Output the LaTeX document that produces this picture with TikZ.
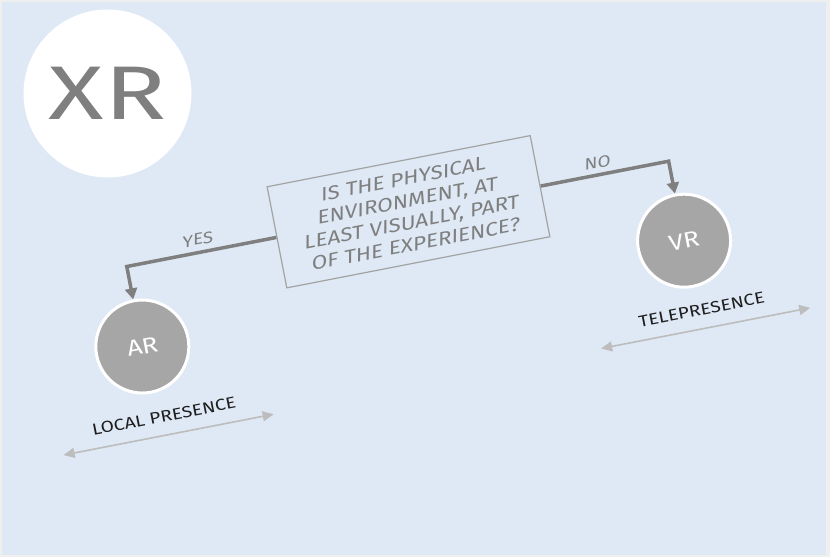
\documentclass[tikz,border=0pt]{standalone}
\usepackage{fontspec}
\setmainfont{Fira Sans}
\newfontfamily\handfont[FakeStretch=1.2]{Fira Sans}
\newfontfamily\handslant[FakeStretch=1.2,FakeSlant=0.2]{Fira Sans}
\usetikzlibrary{arrows.meta}
\definecolor{bgblue}{HTML}{DEE9F5}
\definecolor{framegray}{HTML}{EFEFEF}
\definecolor{ink}{HTML}{7F7F7F}
\definecolor{discgray}{HTML}{A6A6A6}
\definecolor{boxgray}{HTML}{A3A3A3}
\definecolor{spangray}{HTML}{BDBDBD}
\definecolor{labelink}{HTML}{1E1E1E}

\tikzset{
  question/.style={draw=boxgray, line width=1.2pt, minimum width=268pt, minimum height=103pt,
    inner sep=0pt, align=center, text=ink, transform shape,
    font=\handslant\fontsize{19}{22}\selectfont},
  outcome/.style={circle, fill=discgray, draw=white, line width=3pt, minimum size=93pt,
    text=white, transform shape, font=\handfont\fontsize{22}{22}\selectfont},
  branch/.style={draw=ink, line width=3.5pt, -{Triangle[length=11pt,width=12pt]}},
  answer/.style={text=ink, transform shape, font=\handslant\fontsize{16}{16}\selectfont},
  spanarrow/.style={draw=spangray, line width=1.6pt,
    {Triangle[length=11pt,width=10pt]}-{Triangle[length=11pt,width=10pt]}},
  spanlabel/.style={text=labelink, transform shape, font=\handfont\fontsize{16}{16}\selectfont}
}

\begin{document}
\begin{tikzpicture}[x=1pt, y=1pt]

\useasboundingbox (0,0) rectangle (830,-557);
\fill[framegray] (0,0) rectangle (830,-557);
\fill[bgblue] (2,-2) rectangle (826,-555);

% XR badge
\node (xrdisc) [circle, fill=white, minimum size=168pt] at (107.5,-93.5) {};
\node (xrtext) [text=ink, xscale=1.35, font=\fontsize{76}{76}\selectfont] at (xrdisc) {XR};

% decision, tilted
\begin{scope}[shift={(408.5,-211.75)}, rotate=11]

\node (q) [question] at (0,0) {IS THE PHYSICAL\\ ENVIRONMENT, AT\\ LEAST VISUALLY, PART\\ OF THE EXPERIENCE?};

\node (ar) [outcome] at (-287,-81.5) {AR};
\node (vr) [outcome] at (265,-81) {VR};

\coordinate (yesbend) at (-287,0);
\coordinate (nobend) at (265,0);
\draw[branch] (q.west) -- (yesbend) -- (ar.north);
\draw[branch] (q.east) -- (nobend) -- (vr.north);

\node (yes) [answer] at (-213,13) {YES};
\node (no) [answer] at (194,12) {NO};

% presence ranges
\coordinate (localL) at (-385,-173);
\coordinate (localR) at (-171,-173);
\draw[spanarrow] (localL) -- (localR);
\node (local) [spanlabel] at (-279,-154) {LOCAL PRESENCE};

\coordinate (teleL) at (163,-171);
\coordinate (teleR) at (376,-171);
\draw[spanarrow] (teleL) -- (teleR);
\node (tele) [spanlabel] at (269,-152) {TELEPRESENCE};

\end{scope}

\end{tikzpicture}
\end{document}
